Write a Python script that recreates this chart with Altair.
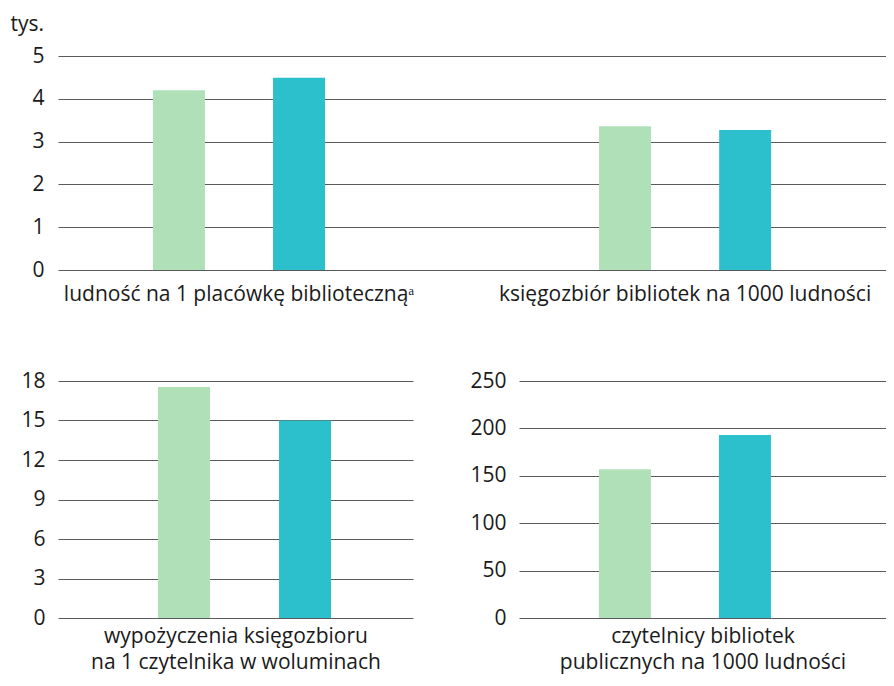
import altair as alt
import pandas as pd

series = ["seria 1", "seria 2"]
colors = ["#B0E0B8", "#2CBFCC"]

top_groups = ["ludność na 1 placówkę bibliotecznąᵃ", "księgozbiór bibliotek na 1000 ludności"]
top_s1 = [4.2, 3.36]
top_s2 = [4.49, 3.27]
top_ticks = [0, 1, 2, 3, 4, 5]

bl_title = ["wypożyczenia księgozbioru", "na 1 czytelnika w woluminach"]
bl_vals = [17.55, 15.0]
bl_ticks = [0, 3, 6, 9, 12, 15, 18]

br_title = ["czytelnicy bibliotek", "publicznych na 1000 ludności"]
br_vals = [157, 193]
br_ticks = [0, 50, 100, 150, 200, 250]

FONT = "Open Sans"
FS = 21
TXT = "#1a1a1a"

top_df = pd.DataFrame({
    "group": top_groups * 2,
    "series": [series[0]] * 2 + [series[1]] * 2,
    "value": top_s1 + top_s2,
})
bl_df = pd.DataFrame({"series": series, "value": bl_vals})
br_df = pd.DataFrame({"series": series, "value": br_vals})

color = alt.Color("series:N", scale=alt.Scale(domain=series, range=colors), legend=None)

top = alt.Chart(top_df).mark_bar(width=52).encode(
    x=alt.X("group:N", sort=top_groups,
            scale=alt.Scale(paddingInner=0.3, paddingOuter=0.078, align=0.357),
            axis=alt.Axis(title=None, labelAngle=0, labelPadding=13, labelLimit=600,
                          grid=False, labelFontSize=FS)),
    xOffset=alt.XOffset("series:N", sort=series,
                        scale=alt.Scale(paddingInner=0, paddingOuter=0.30)),
    y=alt.Y("value:Q", scale=alt.Scale(domain=[0, 5], nice=False),
            axis=alt.Axis(values=top_ticks, grid=True, labelPadding=14,
                          title="tys.", titleAngle=0, titleX=-48, titleY=-26,
                          titleAlign="left", titleBaseline="alphabetic",
                          titleFontWeight="normal", titleFontSize=FS, titleColor=TXT)),
    color=color,
).properties(width=828, height=214)

def bottom(df, title, ticks, dmax, po, al, w):
    return alt.Chart(df).mark_bar(width=52).encode(
        x=alt.X("series:N", sort=series,
                scale=alt.Scale(paddingInner=0.5, paddingOuter=po, align=al),
                axis=alt.Axis(labels=False, title=title, titlePadding=7,
                              titleFontWeight="normal", titleFontSize=FS,
                              titleLineHeight=26, titleColor=TXT, grid=False)),
        y=alt.Y("value:Q", scale=alt.Scale(domain=[0, dmax], nice=False),
                axis=alt.Axis(values=ticks, grid=True, labelPadding=13, title=None)),
        color=color,
    ).properties(width=w, height=237)

bl = bottom(bl_df, bl_title, bl_ticks, 18, 0.717, 0.552, 355)
br = bottom(br_df, br_title, br_ticks, 250, 0.779, 0.406, 367)

chart = alt.vconcat(
    top,
    alt.hconcat(bl, br, spacing=106, bounds="flush"),
    spacing=111, bounds="flush",
).properties(
    padding={"left": 2, "top": 5, "right": 0, "bottom": 6}
).configure_axis(
    labelFont=FONT, titleFont=FONT, labelFontSize=FS, labelColor=TXT,
    gridColor="#5a5a5a", gridWidth=1, ticks=False, domain=False,
).configure_view(stroke=None)

chart.save("out.html", embed_options={"renderer": "svg", "actions": False})
